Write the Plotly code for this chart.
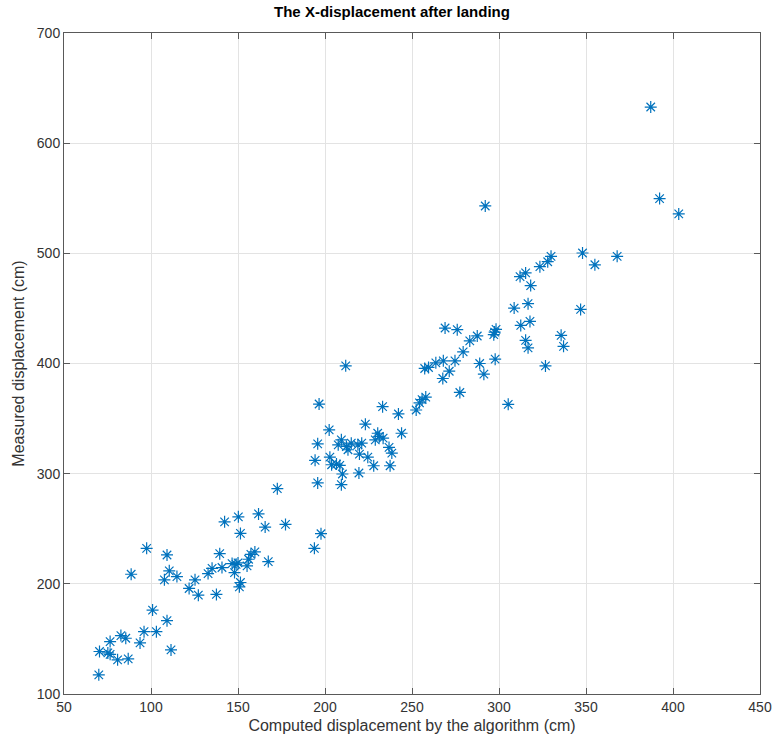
import plotly.graph_objects as go

# Computed displacement (cm) and measured displacement (cm)
computed = [
    70.0, 70.4, 75.2, 76.5, 76.5, 80.8, 82.7, 85.5, 86.9, 88.6, 93.7, 96.0, 97.5, 100.9,
    103.1, 107.7, 109.2, 109.2, 110.5, 111.5, 114.9, 121.9, 125.3, 127.2, 132.8, 135.1,
    137.6, 139.5, 140.8, 142.3, 146.6, 148.0, 148.9, 150.0, 150.2, 151.4, 150.8, 151.4,
    155.2, 156.1, 157.4, 159.7, 161.8, 165.6, 167.4, 177.3, 172.6,
    193.9, 197.7, 195.8, 194.3, 195.8, 196.6, 202.4, 202.8, 203.8, 206.6, 208.5, 210.0,
    209.4, 207.6, 209.4, 212.3, 213.2, 215.1, 218.9, 221.1, 219.8, 219.5, 223.2, 224.6,
    228.0, 228.9, 230.3, 231.2, 233.4, 233.1, 236.8, 238.4, 237.4, 242.2, 244.0, 211.9,
    252.4, 254.3, 255.8, 257.9, 257.3, 259.5, 263.7, 268.0, 274.7, 271.4, 267.7, 277.5,
    279.4, 283.2, 287.5, 269.0, 276.0, 288.9, 291.3, 297.8, 298.3, 297.5, 297.0, 305.3,
    292.1,
    308.7, 312.5, 312.1, 315.3, 316.7, 317.8, 315.3, 316.7, 318.2, 323.5, 326.7, 328.0,
    329.9, 335.7, 337.1, 346.9, 348.0, 355.1, 367.9, 387.2, 392.3, 403.3,
]
measured = [
    117.4, 138.6, 137.3, 136.0, 147.6, 131.0, 153.0, 150.6, 131.9, 208.7, 146.4, 156.6, 232.2, 176.2,
    156.6, 203.6, 166.6, 226.2, 211.8, 140.0, 206.6, 195.8, 203.6, 189.7, 209.3, 214.1,
    190.4, 227.4, 214.8, 256.3, 218.4, 210.2, 217.7, 219.0, 260.8, 245.8, 197.3, 201.2,
    216.3, 222.3, 226.8, 229.0, 263.5, 251.5, 220.2, 253.9, 286.4,
    232.2, 245.5, 291.6, 312.1, 327.1, 363.2, 339.7, 315.0, 308.1, 308.7, 307.5, 299.7,
    290.0, 326.2, 330.7, 324.7, 321.7, 327.7, 326.2, 327.7, 317.8, 300.6, 344.9, 315.0,
    307.2, 330.7, 336.7, 333.8, 332.2, 360.8, 323.8, 318.7, 307.2, 354.2, 336.7, 397.9,
    357.8, 364.3, 367.2, 369.5, 395.5, 396.4, 400.6, 402.4, 402.4, 393.0, 386.4, 373.7,
    410.5, 420.5, 425.0, 432.2, 430.7, 400.0, 390.3, 403.9, 431.0, 428.5, 426.2, 362.9,
    543.0,
    450.3, 434.6, 478.9, 482.2, 454.3, 438.2, 421.0, 414.2, 470.7, 487.9, 397.8, 492.4,
    497.3, 425.6, 415.6, 449.1, 500.3, 489.6, 497.3, 632.8, 549.7, 535.8,
]

x_ticks = [50, 100, 150, 200, 250, 300, 350, 400, 450]
y_ticks = [100, 200, 300, 400, 500, 600, 700]

FONT = "Liberation Sans, Arial, sans-serif"
AX = "#595959"
TXT = "#333333"

fig = go.Figure()
fig.add_trace(go.Scatter(
    x=computed, y=measured, mode="markers",
    marker=dict(symbol="asterisk-open", size=10, color="#0072BD",
                line=dict(color="#0072BD", width=1.2)),
    showlegend=False,
))

axis_common = dict(
    showgrid=True, gridcolor="#e3e3e3", gridwidth=1,
    showline=True, linecolor=AX, linewidth=1, mirror="ticks",
    ticks="inside", ticklen=6, tickcolor=AX, tickwidth=1,
    zeroline=False, tickfont=dict(family=FONT, size=14, color=TXT),
)

fig.update_layout(
    width=784, height=744,
    margin=dict(l=64, r=15, t=33, b=47),
    paper_bgcolor="white", plot_bgcolor="white",
    title=dict(text="<b>The X-displacement after landing</b>", x=0.5, xanchor="center",
               y=1 - 12 / 744, yanchor="middle",
               font=dict(family=FONT, size=15, color="#000000")),
    xaxis=dict(range=[50, 450], tickvals=x_ticks, **axis_common,
               title=dict(text="Computed displacement by the algorithm (cm)", standoff=6,
                          font=dict(family=FONT, size=16, color=TXT))),
    yaxis=dict(range=[100, 700], tickvals=y_ticks, **axis_common,
               title=dict(text="Measured displacement (cm)", standoff=8,
                          font=dict(family=FONT, size=16, color=TXT))),
)

fig.write_html("out.html")
